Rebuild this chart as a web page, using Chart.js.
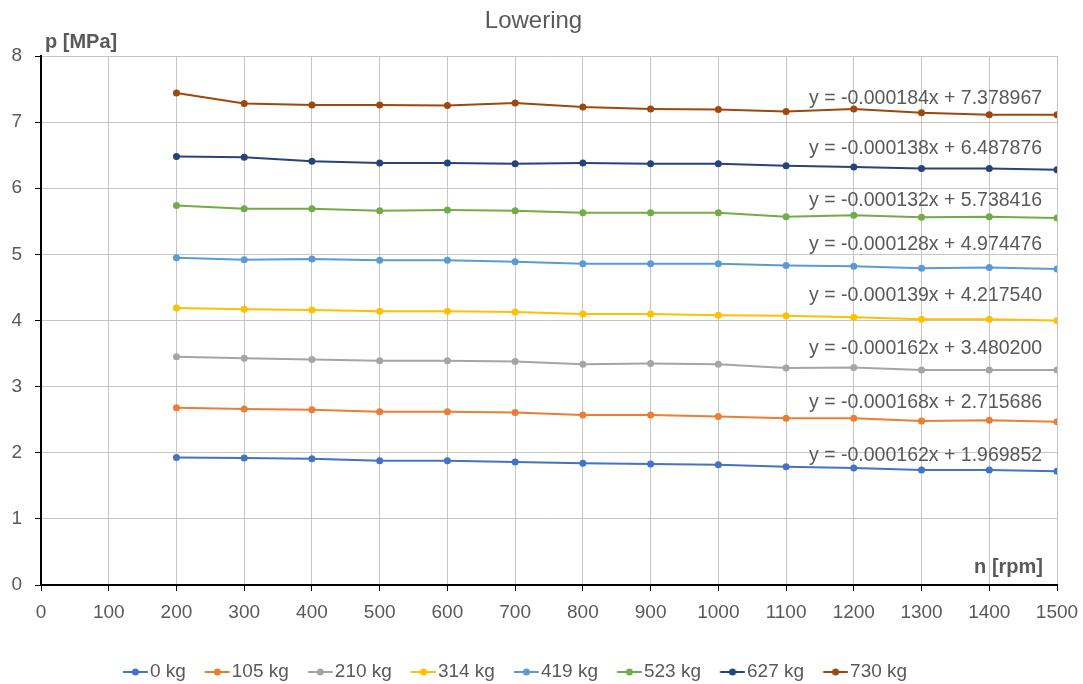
<!DOCTYPE html>
<html><head><meta charset="utf-8">
<script src="https://cdn.jsdelivr.net/npm/chart.js@4.4.0/dist/chart.umd.min.js"></script>
<style>html,body{margin:0;padding:0;background:#fff}#wrap{width:1083px;height:684px}</style>
</head><body><div id="wrap"><canvas id="c" width="1083" height="684"></canvas></div>
<script>
// ---- data ----
const rpm = [200,300,400,500,600,700,800,900,1000,1100,1200,1300,1400,1500];
const loads = ['0 kg','105 kg','210 kg','314 kg','419 kg','523 kg','627 kg','730 kg'];
const p0   = [1.93,1.92,1.91,1.88,1.88,1.86,1.84,1.83,1.82,1.79,1.77,1.74,1.74,1.72];
const p105 = [2.68,2.66,2.65,2.62,2.62,2.61,2.57,2.57,2.55,2.52,2.52,2.48,2.49,2.47];
const p210 = [3.45,3.43,3.41,3.39,3.39,3.38,3.34,3.35,3.34,3.28,3.29,3.25,3.25,3.25];
const p314 = [4.19,4.17,4.16,4.14,4.14,4.13,4.10,4.10,4.08,4.07,4.05,4.02,4.02,4.00];
const p419 = [4.95,4.92,4.93,4.91,4.91,4.89,4.86,4.86,4.86,4.83,4.82,4.79,4.80,4.78];
const p523 = [5.74,5.69,5.69,5.66,5.67,5.66,5.63,5.63,5.63,5.57,5.59,5.56,5.57,5.55];
const p627 = [6.48,6.47,6.41,6.38,6.38,6.37,6.38,6.37,6.37,6.34,6.32,6.30,6.30,6.28];
const p730 = [7.44,7.28,7.26,7.26,7.25,7.29,7.23,7.20,7.19,7.16,7.20,7.14,7.11,7.11];
const trendEquations = [
  'y = -0.000162x + 1.969852',
  'y = -0.000168x + 2.715686',
  'y = -0.000162x + 3.480200',
  'y = -0.000139x + 4.217540',
  'y = -0.000128x + 4.974476',
  'y = -0.000132x + 5.738416',
  'y = -0.000138x + 6.487876',
  'y = -0.000184x + 7.378967'
];
const xMin = 0, xMax = 1500, xStep = 100;
const yMin = 0, yMax = 8, yStep = 1;
const chartTitle = 'Lowering';
const yTitle = 'p [MPa]';
const xTitle = 'n [rpm]';

// ---- styles ----
const series = [p0,p105,p210,p314,p419,p523,p627,p730];
const colors = ['#4472C4','#ED7D31','#A5A5A5','#FFC000','#5B9BD5','#70AD47','#264478','#9E480E'];
const FONT = '"Liberation Sans", Arial, sans-serif';
const TXT = '#595959';
// label anchors (data units) for trendline equations
const eqAnchorX = 1306;
const eqAnchorY = [1.96,2.76,3.57,4.38,5.14,5.81,6.60,7.35];

function legendIcon(color){
  const cv = document.createElement('canvas');
  cv.width = 42; cv.height = 10;
  const g = cv.getContext('2d');
  g.strokeStyle = color; g.lineWidth = 2;
  g.beginPath(); g.moveTo(16.75,5); g.lineTo(41.75,5); g.stroke();
  g.fillStyle = color; g.beginPath(); g.arc(29.25,5,3.5,0,Math.PI*2); g.fill();
  return cv;
}

const datasets = series.map((arr,i)=>({
  label: loads[i],
  data: arr.map((v,j)=>({x: rpm[j], y: v})),
  borderColor: colors[i],
  backgroundColor: colors[i],
  borderWidth: 2,
  pointRadius: 3.5,
  pointBorderWidth: 0,
  pointHoverRadius: 3.5,
  pointStyle: 'circle',
  tension: 0,
  fill: false
}));

const textPlugin = {
  id: 'texts',
  afterLayout(chart){
    const lg = chart.legend;
    if (lg) { lg.left -= 31; lg.right -= 31; lg.top += 7.5; lg.bottom += 7.5; }
    const tb = chart.titleBlock;
    if (tb) { tb.left -= 8; tb.right -= 8; }
  },
  afterDatasetsDraw(chart){
    const {ctx, scales:{x,y}, chartArea} = chart;
    ctx.save();
    ctx.fillStyle = TXT;
    ctx.font = '19.5px ' + FONT;
    ctx.textAlign = 'center';
    ctx.textBaseline = 'middle';
    trendEquations.forEach((t,i)=>{
      ctx.fillText(t, x.getPixelForValue(eqAnchorX), y.getPixelForValue(eqAnchorY[i]));
    });
    ctx.font = 'bold 20px ' + FONT;
    ctx.textAlign = 'left';
    ctx.fillText(yTitle, chartArea.left + 4, chartArea.top - 14);
    ctx.textAlign = 'right';
    ctx.fillText(xTitle, chartArea.right - 14, chartArea.bottom - 18);
    ctx.restore();
  }
};

new Chart(document.getElementById('c'), {
  type: 'line',
  data: { datasets },
  options: {
    responsive: false,
    animation: false,
    devicePixelRatio: 1,
    layout: { padding: { left: 0, right: 0, top: 0, bottom: 0 } },
    plugins: {
      title: { display: true, text: chartTitle, color: TXT, font: { family: FONT, size: 24, weight: 'normal' }, padding: { top: 6.5, bottom: 20.7 } },
      legend: {
        position: 'bottom',
        labels: {
          color: TXT, font: { family: FONT, size: 19 },
          usePointStyle: true, pointStyleWidth: 26.5, boxHeight: 10, padding: 10,
          generateLabels(chart){
            return chart.data.datasets.map((d,i)=>({
              text: d.label, pointStyle: legendIcon(colors[i]), fillStyle: colors[i],
              strokeStyle: colors[i], lineWidth: 0, datasetIndex: i, fontColor: TXT, hidden: false
            }));
          }
        }
      },
      tooltip: { enabled: false }
    },
    scales: {
      x: {
        type: 'linear', min: xMin, max: xMax,
        ticks: { stepSize: xStep, color: TXT, font: { family: FONT, size: 19 }, padding: 10, maxRotation: 0, callback: v => String(v) },
        grid: { color: '#c6c6c6', lineWidth: 1, tickLength: 6, tickColor: '#000', drawTicks: true },
        border: { color: '#000', width: 2 },
        afterFit(s){ s.height = 60; s.paddingRight = 26; s.paddingLeft = 0; }
      },
      y: {
        type: 'linear', min: yMin, max: yMax,
        ticks: { stepSize: yStep, color: TXT, font: { family: FONT, size: 19 }, padding: 13 },
        grid: { color: '#c6c6c6', lineWidth: 1, tickLength: 6, tickColor: '#000', drawTicks: true },
        border: { color: '#000', width: 2 },
        afterFit(s){ s.width = 41; }
      }
    }
  },
  plugins: [textPlugin]
});
</script></body></html>
